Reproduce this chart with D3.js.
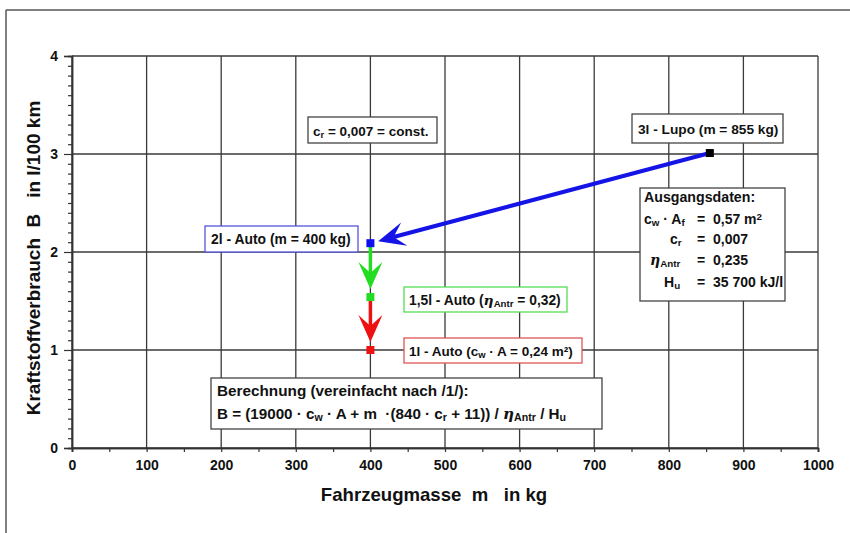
<!DOCTYPE html>
<html>
<head>
<meta charset="utf-8">
<script src="https://cdn.jsdelivr.net/npm/d3@7"></script>
<style>
  html, body { margin: 0; padding: 0; background: #fff; }
  svg text { font-family: "Liberation Sans", Arial, sans-serif; font-weight: bold; fill: #111; }
  .tick-label { font-family: "Liberation Sans Narrow", "Arial Narrow", "Liberation Sans", sans-serif; }
</style>
</head>
<body>
<svg id="chart" width="850" height="533"></svg>
<script>
// Vehicles and their fuel consumption
const vehicles = ["3l - Lupo", "2l - Auto", "1,5l - Auto", "1l - Auto"];
const masses = [855, 400, 400, 400];          // kg
const consumption = [3.01, 2.09, 1.54, 1.0];  // l/100 km
const pointColors = ["#000000", "#1010ee", "#22dd22", "#ee1111"];

// Axis ticks
const xTicks = [0, 100, 200, 300, 400, 500, 600, 700, 800, 900, 1000];
const yTicks = [0, 1, 2, 3, 4];

const svg = d3.select("#chart");
const W = 850, H = 533;
const plot = { left: 72, right: 818, top: 56, bottom: 448 };

const x = d3.scaleLinear().domain([0, 1000]).range([plot.left, plot.right]);
const y = d3.scaleLinear().domain([0, 4]).range([plot.bottom, plot.top]);

// page frame
svg.append("line").attr("x1", 6).attr("x2", W).attr("y1", 10).attr("y2", 10)
  .attr("stroke", "#555").attr("stroke-width", 1.5);
svg.append("line").attr("x1", 6).attr("x2", 6).attr("y1", 10).attr("y2", H)
  .attr("stroke", "#555").attr("stroke-width", 1.5);

// grid
const grid = svg.append("g").attr("stroke", "#3a3a3a").attr("stroke-width", 1.3);
grid.selectAll(".vx").data(xTicks).join("line")
  .attr("x1", d => x(d)).attr("x2", d => x(d))
  .attr("y1", plot.top).attr("y2", plot.bottom);
grid.selectAll(".hy").data(yTicks).join("line")
  .attr("x1", plot.left).attr("x2", plot.right)
  .attr("y1", d => y(d)).attr("y2", d => y(d));

// axes
const xAxis = d3.axisBottom(x).tickValues(xTicks).tickSize(4).tickPadding(8).tickFormat(d3.format("d"));
const xMinor = d3.axisBottom(x).tickValues(d3.range(50, 1000, 100)).tickSize(4).tickFormat("");
const yAxis = d3.axisLeft(y).tickValues(yTicks).tickSize(8).tickPadding(6).tickFormat(d3.format("d"));
const yMinor = d3.axisLeft(y).tickValues(d3.range(1, 40).filter(v => v % 10 !== 0).map(v => v / 10)).tickSize(4).tickFormat("");

function styleAxis(g) {
  g.select(".domain").attr("stroke", "#333").attr("stroke-width", 1.5);
  g.selectAll(".tick line").attr("stroke", "#333").attr("stroke-width", 1.2);
  g.selectAll(".tick text").attr("class", "tick-label").attr("font-size", 14).attr("fill", "#111");
}
svg.append("g").attr("transform", `translate(0,${plot.bottom})`).call(xMinor).call(styleAxis);
svg.append("g").attr("transform", `translate(0,${plot.bottom})`).call(xAxis).call(styleAxis);
svg.append("g").attr("transform", `translate(${plot.left},0)`).call(yMinor).call(styleAxis);
svg.append("g").attr("transform", `translate(${plot.left},0)`).call(yAxis).call(styleAxis);

// axis titles
svg.append("text").attr("x", 434).attr("y", 501).attr("text-anchor", "middle")
  .attr("font-size", 18.6).attr("xml:space", "preserve")
  .text("Fahrzeugmasse  m   in kg");
svg.append("text").attr("transform", "translate(40,258) rotate(-90)").attr("text-anchor", "middle")
  .attr("font-size", 19).attr("xml:space", "preserve")
  .text("Kraftstoffverbrauch  B   in l/100 km");

// arrows between the vehicle points
function arrow(i, j, color, width) {
  const x1 = x(masses[i]), y1 = y(consumption[i]);
  const x2 = x(masses[j]), y2 = y(consumption[j]);
  const dx = x2 - x1, dy = y2 - y1, len = Math.hypot(dx, dy);
  const ux = dx / len, uy = dy / len;
  const gap = 8;
  const tx = x2 - ux * gap, ty = y2 - uy * gap;       // arrow tip
  const L = 27, hw = 12, notch = 16;
  const bx = tx - ux * L, by = ty - uy * L;
  const nx = tx - ux * notch, ny = ty - uy * notch;
  const px = -uy, py = ux;
  svg.append("line").attr("x1", x1).attr("y1", y1).attr("x2", nx).attr("y2", ny)
    .attr("stroke", color).attr("stroke-width", width);
  svg.append("path")
    .attr("d", `M${tx},${ty} L${bx + px * hw},${by + py * hw} L${nx},${ny} L${bx - px * hw},${by - py * hw} Z`)
    .attr("fill", color);
}
arrow(0, 1, "#1414e6", 4);
arrow(1, 2, "#22dd22", 3.5);
arrow(2, 3, "#ee1111", 3.5);

// vehicle points
svg.selectAll(".pt").data(masses).join("rect")
  .attr("x", (d) => x(d) - 4).attr("y", (d, i) => y(consumption[i]) - 4)
  .attr("width", 8).attr("height", 8)
  .attr("fill", (d, i) => pointColors[i]);

// label boxes
function box(bx, by, bw, bh, stroke) {
  svg.append("rect").attr("x", bx).attr("y", by).attr("width", bw).attr("height", bh)
    .attr("fill", "#fff").attr("stroke", stroke).attr("stroke-width", 1.3);
}
function label(tx, ty, parts, size, anchor) {
  const t = svg.append("text").attr("x", tx).attr("y", ty).attr("font-size", size)
    .attr("text-anchor", anchor || "start").attr("xml:space", "preserve");
  parts.forEach(p => {
    const s = t.append("tspan").text(p.t);
    if (p.sub) s.attr("font-size", size * 0.7).attr("baseline-shift", "-22%");
    if (p.sup) s.attr("font-size", size * 0.7).attr("baseline-shift", "40%");
    if (p.it) s.attr("font-style", "italic").attr("font-family", "'DejaVu Serif', serif");
  });
  return t;
}

// c_r constant
box(308, 117, 129, 26, "#444");
label(313, 136, [{ t: "c" }, { t: "r", sub: true }, { t: " = 0,007 = const." }], 13.5);

// Lupo
box(632, 114, 151, 29, "#444");
label(638, 134, [{ t: vehicles[0] + " (m = " + masses[0] + " kg)" }], 13.7);

// starting data
box(640, 188, 145, 113, "#444");
label(644, 202, [{ t: "Ausgangsdaten:" }], 14.2);
label(644, 224, [{ t: "c" }, { t: "w", sub: true }, { t: " · A" }, { t: "f", sub: true }], 14);
label(697, 224, [{ t: "=  0,57 m" }, { t: "2", sup: true }], 14);
label(670, 244, [{ t: "c" }, { t: "r", sub: true }], 14);
label(697, 244, [{ t: "=  0,007" }], 14);
label(650, 265, [{ t: "η", it: true }, { t: "Antr", sub: true }], 14);
label(697, 265, [{ t: "=  0,235" }], 14);
label(664, 287, [{ t: "H" }, { t: "u", sub: true }], 14);
label(697, 287, [{ t: "=  35 700 kJ/l" }], 14);

// 2l car
box(205, 226, 153, 26, "#5555dd");
label(211, 244, [{ t: vehicles[1] + " (m = " + masses[1] + " kg)" }], 13.9);

// 1,5l car
box(404, 287, 163, 25, "#55dd55");
label(409, 305, [{ t: vehicles[2] + " (" }, { t: "η", it: true }, { t: "Antr", sub: true }, { t: " = 0,32)" }], 13.8);

// 1l car
box(404, 338, 178, 25, "#dd5555");
label(409, 356, [{ t: vehicles[3] + " (c" }, { t: "w", sub: true }, { t: " · A = 0,24 m²)" }], 13.5);

// formula
box(211, 378, 391, 51, "#444");
label(217, 396, [{ t: "Berechnung (vereinfacht nach /1/):" }], 15.3);
label(217, 419, [{ t: "B = (19000 · c" }, { t: "w", sub: true }, { t: " · A + m  ·(840 · c" }, { t: "r", sub: true },
  { t: " + 11)) / " }, { t: "η", it: true }, { t: "Antr", sub: true }, { t: " / H" }, { t: "u", sub: true }], 15.2);
</script>
</body>
</html>
